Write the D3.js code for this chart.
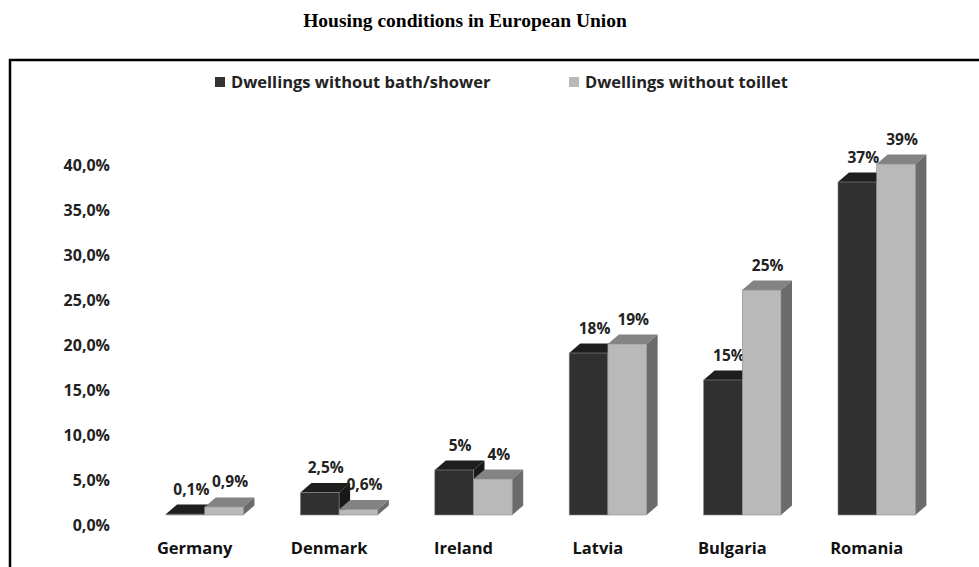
<!DOCTYPE html>
<html>
<head>
<meta charset="utf-8">
<script src="https://cdn.jsdelivr.net/npm/d3@7"></script>
<style>
  body { margin: 0; background: #fff; }
  svg { display: block; }
</style>
</head>
<body>
<div id="chart"></div>
<script>
// chart data
var categories = ['Germany', 'Denmark', 'Ireland', 'Latvia', 'Bulgaria', 'Romania'];
var seriesNames = ['Dwellings without bath/shower', 'Dwellings without toillet'];
var bathValues = [0.1, 2.5, 5, 18, 15, 37];
var toiletValues = [0.9, 0.6, 4, 19, 25, 39];
var bathLabels = ['0,1%', '2,5%', '5%', '18%', '15%', '37%'];
var toiletLabels = ['0,9%', '0,6%', '4%', '19%', '25%', '39%'];
var yTicks = [0, 5, 10, 15, 20, 25, 30, 35, 40];

var width = 979, height = 567;
var depthX = 11, depthY = 9.5;
var font = '"Open Sans", Lato, sans-serif';

// colours: front, top, side for each series
var shades = [
    { front: '#303030', top: '#1e1e1e', side: '#181818', key: '#333333' },
    { front: '#b9b9b9', top: '#838383', side: '#6b6b6b', key: '#b9b9b9' }
];

var svg = d3.select('#chart').append('svg')
    .attr('width', width)
    .attr('height', height);

svg.append('text')
    .attr('x', 465)
    .attr('y', 27)
    .attr('text-anchor', 'middle')
    .style('font-family', '"Liberation Serif", "Times New Roman", serif')
    .style('font-weight', 'bold')
    .style('font-size', '19.5px')
    .text('Housing conditions in European Union');

// frame, runs off the right and bottom edge like the original
svg.append('rect')
    .attr('x', 10)
    .attr('y', 60)
    .attr('width', 1000)
    .attr('height', 600)
    .style('fill', 'none')
    .style('stroke', '#000')
    .style('stroke-width', 2.5);

// legend
var legendX = [215, 569];
var legend = svg.selectAll('.legend')
    .data(seriesNames)
    .enter().append('g')
    .attr('class', 'legend')
    .attr('transform', function (d, i) { return 'translate(' + legendX[i] + ',82)'; });
legend.append('rect')
    .attr('x', 0).attr('y', -5)
    .attr('width', 10).attr('height', 10)
    .style('fill', function (d, i) { return shades[i].key; });
legend.append('text')
    .attr('x', 16)
    .attr('y', 0)
    .attr('dy', '0.35em')
    .style('font-family', font)
    .style('font-weight', 'bold')
    .style('font-size', '16.5px')
    .style('fill', '#222')
    .text(function (d) { return d; });

// scales
var x0 = d3.scaleBand()
    .domain(categories)
    .range([166, 915.4])
    .paddingInner(0.424)
    .paddingOuter(0);
var x1 = d3.scaleBand()
    .domain([0, 1])
    .range([0, x0.bandwidth()]);
var y = d3.scaleLinear().domain([0, 40]).range([515, 155]);
// axis sits on the back wall, slightly offset from the front plane
var yAxisScale = d3.scaleLinear().domain([0, 40]).range([525, 165.5]);

var comma = d3.formatLocale({ decimal: ',', thousands: '.', grouping: [3], currency: ['', '€'] });
var yAxis = d3.axisLeft(yAxisScale)
    .tickValues(yTicks)
    .tickSize(0)
    .tickPadding(0)
    .tickFormat(function (d) { return comma.format('.1f')(d) + '%'; });

var axisG = svg.append('g')
    .attr('transform', 'translate(110,0)')
    .call(yAxis);
axisG.select('.domain').remove();
axisG.selectAll('text')
    .style('font-family', font)
    .style('font-weight', 'bold')
    .style('font-size', '16px')
    .style('fill', '#222');

// bars
var rows = categories.map(function (c, i) {
    return {
        cat: c,
        bars: [
            { s: 0, v: bathValues[i], label: bathLabels[i] },
            { s: 1, v: toiletValues[i], label: toiletLabels[i] }
        ]
    };
});

var groups = svg.selectAll('.cat')
    .data(rows)
    .enter().append('g')
    .attr('class', 'cat')
    .attr('transform', function (d) { return 'translate(' + x0(d.cat) + ',0)'; });

var bar = groups.selectAll('.bar')
    .data(function (d) { return d.bars; })
    .enter().append('g')
    .attr('class', 'bar');

function pts(arr) { return arr.map(function (p) { return p.join(','); }).join(' '); }

bar.append('polygon')   // top face
    .attr('points', function (d) {
        var xl = x1(d.s), xr = xl + x1.bandwidth(), yt = y(d.v);
        return pts([[xl, yt], [xl + depthX, yt - depthY], [xr + depthX, yt - depthY], [xr, yt]]);
    })
    .style('fill', function (d) { return shades[d.s].top; });
bar.append('polygon')   // side face
    .attr('points', function (d) {
        var xr = x1(d.s) + x1.bandwidth(), yt = y(d.v), yb = y(0);
        return pts([[xr, yt], [xr + depthX, yt - depthY], [xr + depthX, yb - depthY], [xr, yb]]);
    })
    .style('fill', function (d) { return shades[d.s].side; });
bar.append('rect')      // front face
    .attr('x', function (d) { return x1(d.s); })
    .attr('y', function (d) { return y(d.v); })
    .attr('width', x1.bandwidth())
    .attr('height', function (d) { return y(0) - y(d.v); })
    .style('fill', function (d) { return shades[d.s].front; })
    .style('stroke', '#8a8a8a')
    .style('stroke-width', 0.6);

bar.append('text')
    .attr('x', function (d) { return x1(d.s) + x1.bandwidth() / 2 + 6; })
    .attr('y', function (d) { return y(d.v) - depthY - 10; })
    .attr('text-anchor', 'middle')
    .style('font-family', font)
    .style('font-weight', 'bold')
    .style('font-size', '15.5px')
    .style('fill', '#222')
    .text(function (d) { return d.label; });

// category labels
svg.selectAll('.catLabel')
    .data(categories)
    .enter().append('text')
    .attr('class', 'catLabel')
    .attr('x', function (d) { return x0(d) + x0.bandwidth() / 2 - 10; })
    .attr('y', 554)
    .attr('text-anchor', 'middle')
    .style('font-family', font)
    .style('font-weight', 'bold')
    .style('font-size', '16.5px')
    .style('fill', '#111')
    .text(function (d) { return d; });
</script>
</body>
</html>
